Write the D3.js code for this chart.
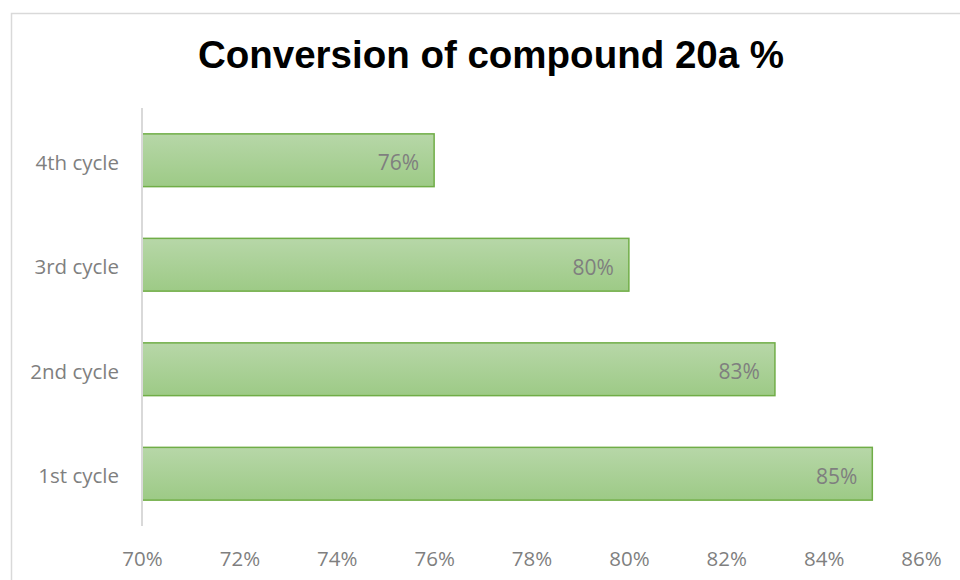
<!DOCTYPE html>
<html>
<head>
<meta charset="utf-8">
<script src="https://cdn.jsdelivr.net/npm/d3@7"></script>
<style>
  html, body { margin: 0; padding: 0; background: #fff; }
  svg { display: block; }
</style>
</head>
<body>
<svg id="chart" width="960" height="580"></svg>
<script>
// Conversion per reuse cycle (fraction)
const categories = ["1st cycle", "2nd cycle", "3rd cycle", "4th cycle"];
const values = [0.85, 0.83, 0.80, 0.76];
const xTicks = [0.70, 0.72, 0.74, 0.76, 0.78, 0.80, 0.82, 0.84, 0.86];
const titleText = "Conversion of compound 20a %";

const svg = d3.select("#chart");
const W = 960, H = 580;
const plot = { left: 142, right: 921, top: 108, bottom: 526 };
const labelFont = "'Open Sans', 'Noto Sans', sans-serif";
const labelColor = "#7f7f7f";

// chart frame
svg.append("rect")
  .attr("x", 11.5).attr("y", 13.5)
  .attr("width", W + 10).attr("height", H + 10)
  .attr("fill", "#fff").attr("stroke", "#d9d9d9").attr("stroke-width", 1.5);

const defs = svg.append("defs");
const grad = defs.append("linearGradient")
  .attr("id", "barFill").attr("x1", 0).attr("y1", 0).attr("x2", 0).attr("y2", 1);
grad.append("stop").attr("offset", "0%").attr("stop-color", "#b7d7a8");
grad.append("stop").attr("offset", "100%").attr("stop-color", "#9dca86");

const x = d3.scaleLinear().domain([0.70, 0.86]).range([plot.left, plot.right]);
const y = d3.scaleBand()
  .domain(categories.slice().reverse())
  .range([plot.top, plot.bottom])
  .paddingInner(0.495).paddingOuter(0.2475);

// title
svg.append("text")
  .attr("x", 491).attr("y", 68)
  .attr("text-anchor", "middle")
  .attr("font-family", "'Liberation Sans', Arial, sans-serif")
  .attr("font-weight", "bold")
  .attr("font-size", 38.5)
  .attr("fill", "#000")
  .text(titleText);

// bars
const data = categories.map((c, i) => ({ cat: c, v: values[i] }));
svg.append("g").selectAll("rect")
  .data(data).join("rect")
  .attr("x", x(0.70))
  .attr("y", d => y(d.cat))
  .attr("width", d => x(d.v) - x(0.70))
  .attr("height", y.bandwidth())
  .attr("fill", "url(#barFill)")
  .attr("stroke", "#70ad47")
  .attr("stroke-width", 1.5);

// value labels inside bar ends
svg.append("g").selectAll("text")
  .data(data).join("text")
  .attr("x", d => x(d.v) - 15)
  .attr("y", d => y(d.cat) + y.bandwidth() / 2 + 10)
  .attr("text-anchor", "end")
  .attr("font-family", labelFont)
  .attr("font-size", 21)
  .attr("fill", labelColor)
  .text(d => Math.round(d.v * 100) + "%");

// category axis
const yAxis = svg.append("g")
  .attr("transform", `translate(${plot.left},0)`)
  .call(d3.axisLeft(y).tickSize(0).tickPadding(23));
yAxis.select(".domain").attr("stroke", "#d9d9d9").attr("stroke-width", 2)
  .attr("d", `M0,${plot.top}V${plot.bottom}`);
yAxis.selectAll("text")
  .attr("dy", "0.47em")
  .attr("font-family", labelFont)
  .attr("font-size", 20.5)
  .attr("fill", labelColor);

// value axis (labels only)
const xAxis = svg.append("g")
  .attr("transform", `translate(0,${plot.bottom})`)
  .call(d3.axisBottom(x).tickValues(xTicks).tickFormat(d3.format(".0%")).tickSize(0).tickPadding(25));
xAxis.select(".domain").remove();
xAxis.selectAll("text")
  .attr("font-family", labelFont)
  .attr("font-size", 20.5)
  .attr("fill", labelColor);
</script>
</body>
</html>
